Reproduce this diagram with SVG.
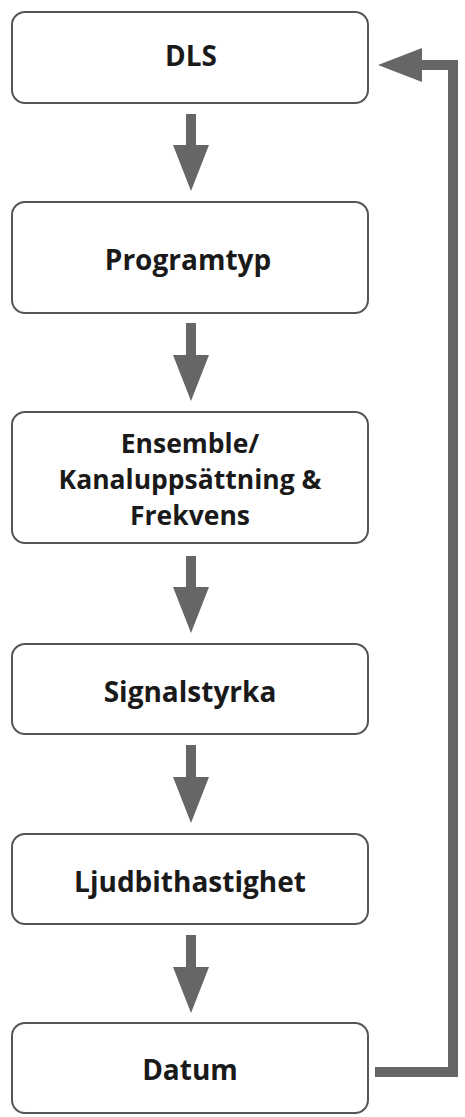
<svg xmlns="http://www.w3.org/2000/svg" width="465" height="1117" viewBox="0 0 465 1117">
<style>
.box{fill:#fff;stroke:#555;stroke-width:2}
.lbl{font-family:"Open Sans","Liberation Sans",sans-serif;font-weight:bold;font-size:28px;fill:#1a1a1a;text-anchor:middle}
.sm{font-size:26.5px}
.shaft{stroke:#666;stroke-width:10;fill:none}
.head{fill:#666}
</style>
<rect width="465" height="1117" fill="#fff"/>
<g id="connectors">
<line class="shaft" x1="191" y1="114" x2="191" y2="150"/><polygon class="head" points="173,145 209,145 191,191"/>
<line class="shaft" x1="191" y1="323" x2="191" y2="360"/><polygon class="head" points="173,355 209,355 191,401"/>
<line class="shaft" x1="191" y1="556" x2="191" y2="592"/><polygon class="head" points="173,587 209,587 191,633"/>
<line class="shaft" x1="191" y1="745" x2="191" y2="782"/><polygon class="head" points="173,777 209,777 191,823"/>
<line class="shaft" x1="191" y1="935" x2="191" y2="972"/><polygon class="head" points="173,967 209,967 191,1013"/>
<polyline class="shaft" points="375,1072 453,1072 453,65 415,65"/>
<polygon class="head" points="422,48 422,82 378,65"/>
</g>
<g id="n1"><rect class="box" x="12" y="12" width="356" height="91" rx="13"/><text class="lbl" x="191" y="66">DLS</text></g>
<g id="n2"><rect class="box" x="12" y="202" width="356" height="111" rx="13"/><text class="lbl" x="188" y="270">Programtyp</text></g>
<g id="n3"><rect class="box" x="12" y="412" width="356" height="131" rx="13"/><text class="lbl sm" x="190" y="453">Ensemble/</text><text class="lbl sm" x="190" y="489">Kanaluppsättning &amp;</text><text class="lbl sm" x="190" y="525">Frekvens</text></g>
<g id="n4"><rect class="box" x="12" y="644" width="356" height="90" rx="13"/><text class="lbl" x="190" y="702">Signalstyrka</text></g>
<g id="n5"><rect class="box" x="12" y="834" width="356" height="90" rx="13"/><text class="lbl" x="190" y="892">Ljudbithastighet</text></g>
<g id="n6"><rect class="box" x="12" y="1023" width="356" height="90" rx="13"/><text class="lbl" x="190" y="1080">Datum</text></g>
</svg>
